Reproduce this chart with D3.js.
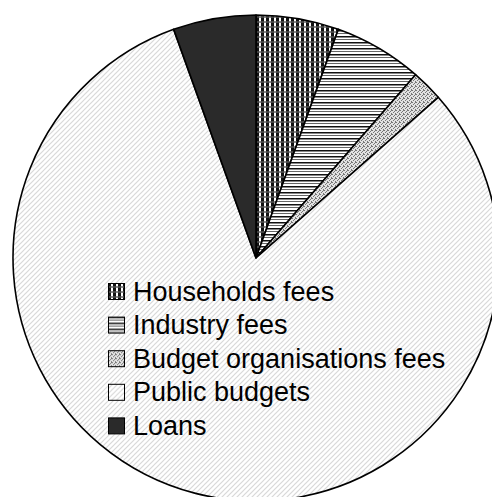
<!DOCTYPE html>
<html><head><meta charset="utf-8">
<script src="https://cdn.jsdelivr.net/npm/d3@7"></script>
<style>html,body{margin:0;padding:0;background:#fff;}svg{display:block;}</style>
</head><body>
<script>
const categories = ["Households fees","Industry fees","Budget organisations fees","Public budgets","Loans"];
const values = [5.5, 5.9, 2.1, 81.0, 5.5];
const patternIds = ["pHouse","pInd","pBud","pPub","pLoan"];

const W = 492, H = 497, cx = 256, cy = 258, R = 243;
const svg = d3.select("body").append("svg").attr("width", W).attr("height", H);
const defs = svg.append("defs");

// Households: grid of black squares with grey bands
let p = defs.append("pattern").attr("id","pHouse").attr("patternUnits","userSpaceOnUse").attr("width",5).attr("height",5);
p.append("rect").attr("width",5).attr("height",5).attr("fill","#fff");
p.append("rect").attr("x",0).attr("y",0).attr("width",3).attr("height",3).attr("fill","#111");
p.append("rect").attr("x",0).attr("y",3).attr("width",5).attr("height",2).attr("fill","#8a8a8a");
p.append("rect").attr("x",0).attr("y",3).attr("width",3).attr("height",2).attr("fill","#444");
// Industry: horizontal lines
p = defs.append("pattern").attr("id","pInd").attr("patternUnits","userSpaceOnUse").attr("width",4).attr("height",6);
p.append("rect").attr("width",4).attr("height",6).attr("fill","#fff");
p.append("rect").attr("x",0).attr("y",0).attr("width",4).attr("height",1.5).attr("fill","#111");
p.append("rect").attr("x",0).attr("y",3).attr("width",4).attr("height",1).attr("fill","#666");
// Budget: speckle
p = defs.append("pattern").attr("id","pBud").attr("patternUnits","userSpaceOnUse").attr("width",4).attr("height",4);
p.append("rect").attr("width",4).attr("height",4).attr("fill","#e2e2e2");
[[0,0],[2,1],[1,2],[3,3],[3,0]].forEach(([x,y])=>p.append("rect").attr("x",x).attr("y",y).attr("width",1).attr("height",1).attr("fill","#777"));
// Public: light diagonal hatch
p = defs.append("pattern").attr("id","pPub").attr("patternUnits","userSpaceOnUse").attr("width",5).attr("height",5);
p.append("rect").attr("width",5).attr("height",5).attr("fill","#fff");
p.append("path").attr("d","M-1,6 L6,-1 M-1,1 L1,-1 M4,6 L6,4").attr("stroke","#d8d8d8").attr("stroke-width",1.2);
// Loans: dark
p = defs.append("pattern").attr("id","pLoan").attr("patternUnits","userSpaceOnUse").attr("width",4).attr("height",4);
p.append("rect").attr("width",4).attr("height",4).attr("fill","#2a2a2a");

const pie = d3.pie().sort(null).value(d => d)(values);
const arc = d3.arc().innerRadius(0).outerRadius(R);
const g = svg.append("g").attr("transform", `translate(${cx},${cy})`);
g.selectAll("path").data(pie).join("path")
  .attr("d", arc)
  .attr("fill", (d,i) => `url(#${patternIds[i]})`)
  .attr("stroke", "#000").attr("stroke-width", 1.6).attr("stroke-linejoin","round");

const leg = svg.append("g").attr("transform","translate(108,283)");
const row = 33.6;
categories.forEach((c,i) => {
  const r = leg.append("g").attr("transform", `translate(0,${i*row})`);
  r.append("rect").attr("x",0.5).attr("y",0.5).attr("width",16).attr("height",16)
    .attr("fill", `url(#${patternIds[i]})`).attr("stroke","#000").attr("stroke-width",1);
  r.append("text").attr("x",25).attr("y",17.5)
    .attr("font-family","'Liberation Sans', Arial, sans-serif").attr("font-size",27)
    .attr("fill","#000").text(c);
});
</script>
</body></html>
